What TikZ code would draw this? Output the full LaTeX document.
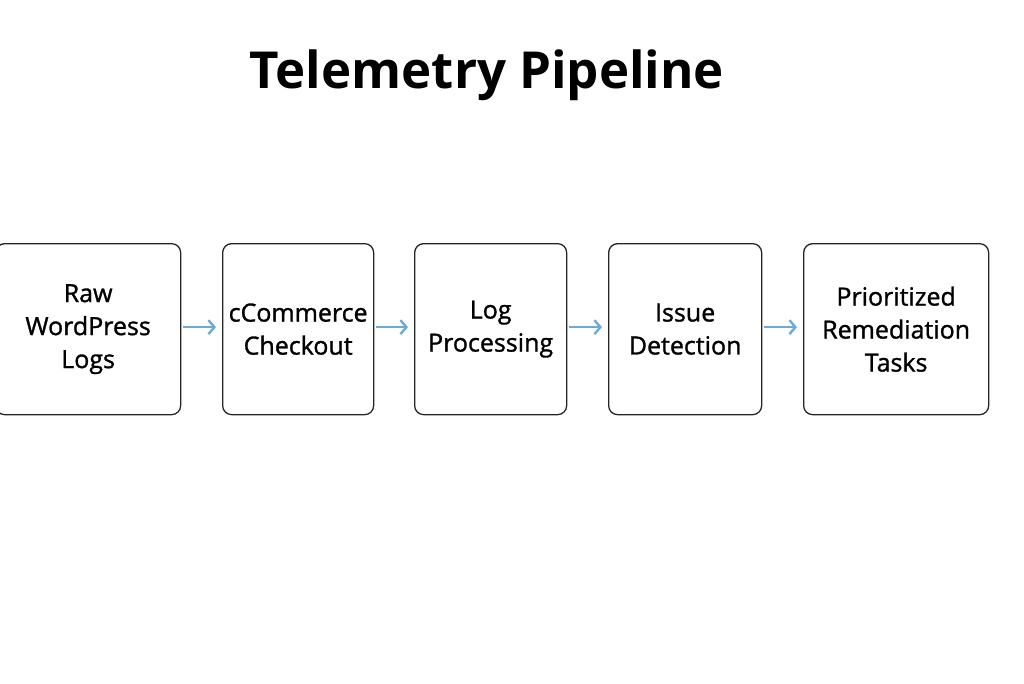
\documentclass[tikz,border=0pt]{standalone}
\usepackage{fontspec}
\setmainfont{Open Sans}
\newfontfamily\medfont[FakeBold=1.2]{Open Sans}
\usetikzlibrary{arrows.meta}
\begin{document}
\begin{tikzpicture}[x=1pt,y=-1pt,
  box/.style={draw=black!85,line width=1.3pt,rounded corners=9pt,align=center,font=\medfont\fontsize{25}{33}\selectfont,anchor=north west,inner sep=0pt},
  arr/.style={draw={rgb,255:red,110;green,170;blue,215},line width=2.4pt,-{Straight Barb[length=6pt,width=14pt]}}]
\useasboundingbox (0,0) rectangle (1024,683);
\node[font=\bfseries\fontsize{51}{55}\selectfont] (t) at (487,75) {Telemetry Pipeline};
\node[box,minimum width=185pt,minimum height=171pt] (b1) at (-5,243) {Raw\\WordPress\\Logs};
\node[box,minimum width=151pt,minimum height=171pt] (b2) at (222,243) {cCommerce\\Checkout};
\node[box,minimum width=152pt,minimum height=171pt] (b3) at (414,243) {Log\\Processing};
\node[box,minimum width=153pt,minimum height=171pt] (b4) at (608,243) {Issue\\Detection};
\node[box,minimum width=185pt,minimum height=171pt] (b5) at (803,243) {Prioritized\\Remediation\\Tasks};
\draw[arr] ([xshift=2pt,yshift=2pt]b1.east) -- ([xshift=-6pt,yshift=2pt]b2.west);
\draw[arr] ([xshift=2pt,yshift=2pt]b2.east) -- ([xshift=-6pt,yshift=2pt]b3.west);
\draw[arr] ([xshift=2pt,yshift=2pt]b3.east) -- ([xshift=-6pt,yshift=2pt]b4.west);
\draw[arr] ([xshift=2pt,yshift=2pt]b4.east) -- ([xshift=-6pt,yshift=2pt]b5.west);
\end{tikzpicture}
\end{document}
